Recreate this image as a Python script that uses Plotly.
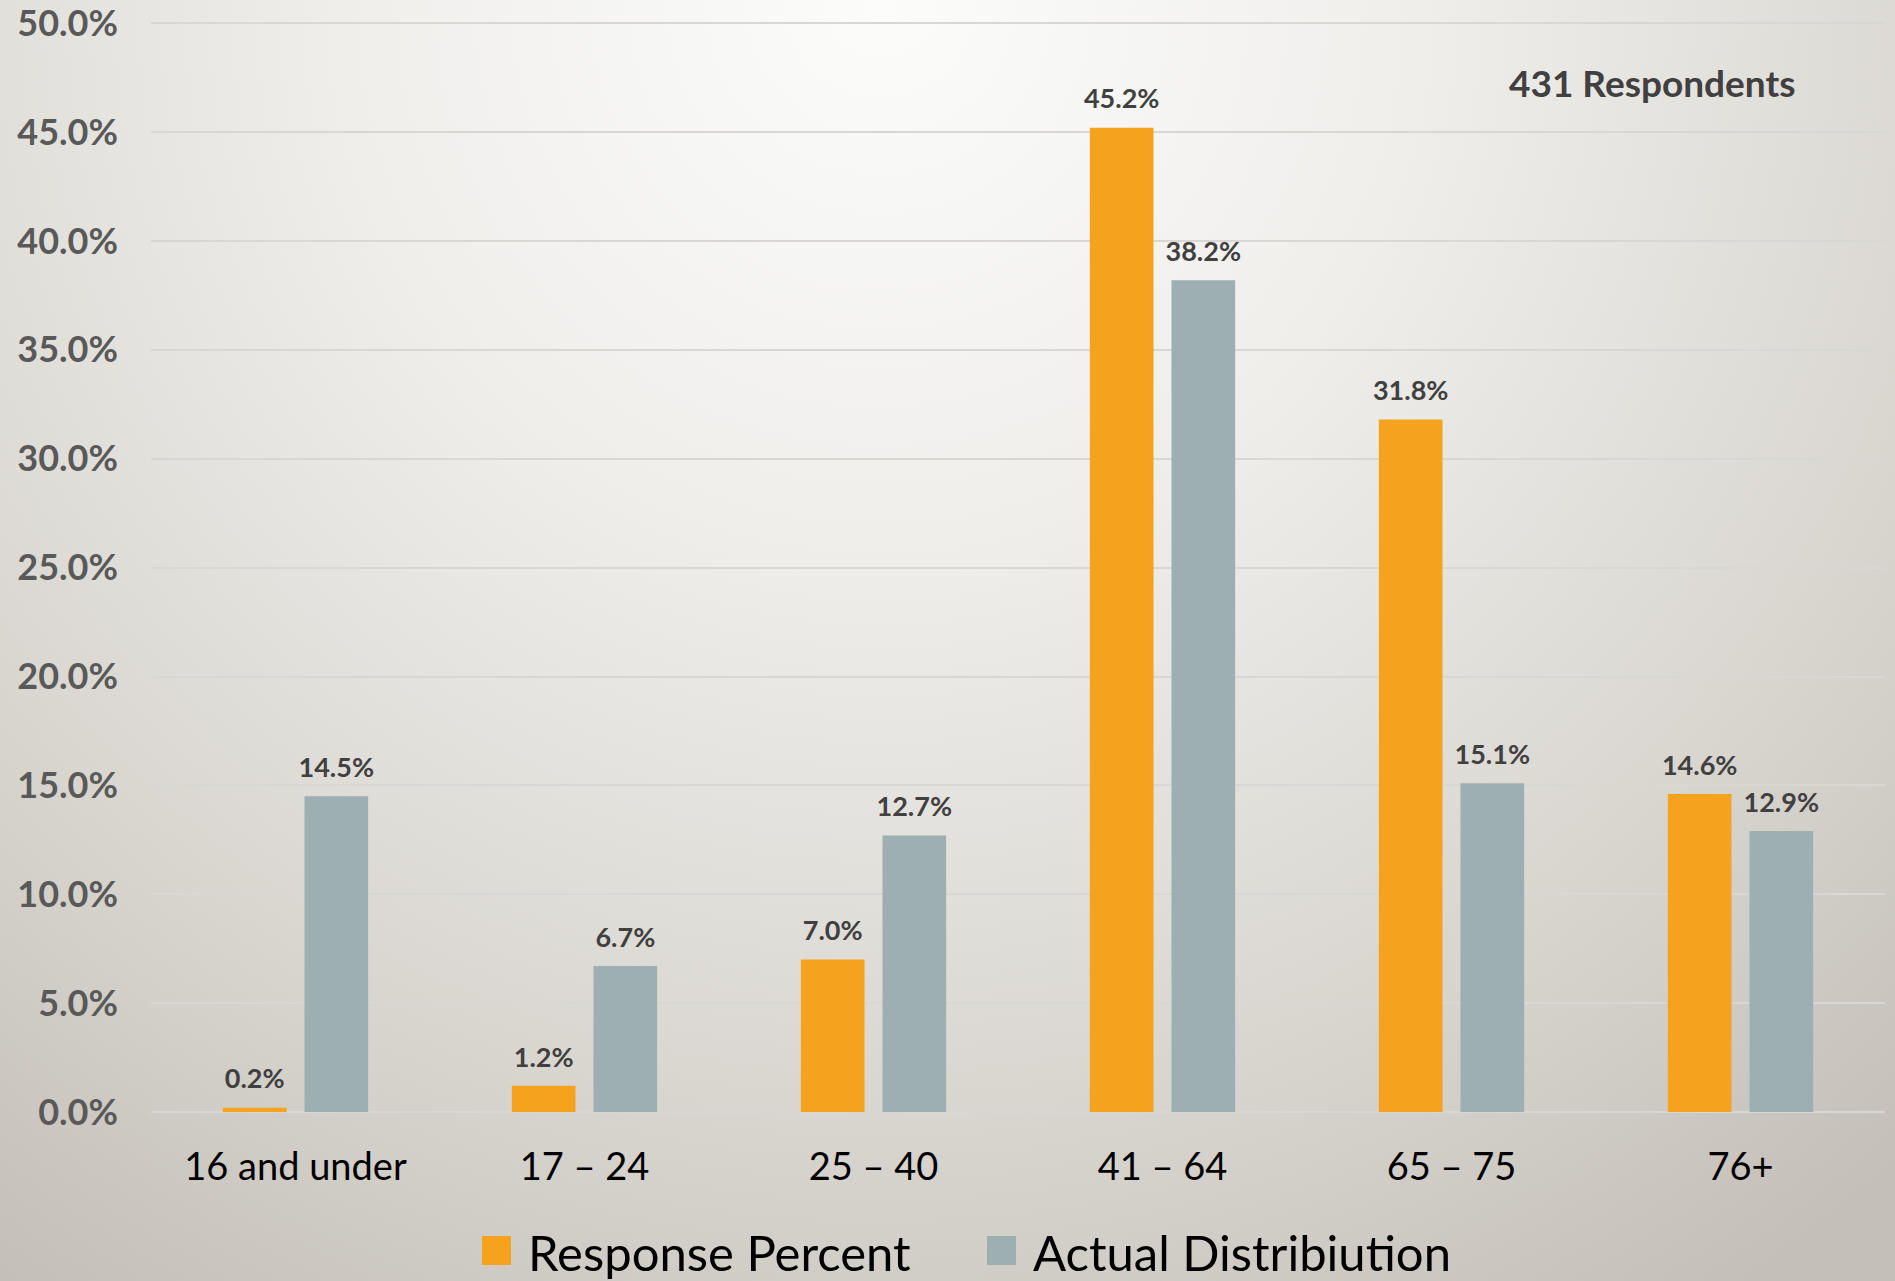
import base64
import plotly.graph_objects as go

categories = ["16 and under", "17 – 24", "25 – 40", "41 – 64", "65 – 75", "76+"]
response_percent = [0.2, 1.2, 7.0, 45.2, 31.8, 14.6]
actual_distribution = [14.5, 6.7, 12.7, 38.2, 15.1, 12.9]
series_names = ["Response Percent", "Actual Distribiution"]
series_colors = ["#F5A31E", "#9EAFB4"]
respondents_note = "431 Respondents"
y_ticks = [0, 5, 10, 15, 20, 25, 30, 35, 40, 45, 50]
y_tick_labels = [f"{v:.1f}%" for v in y_ticks]
y_range = [0, 50.15]

W, H = 1895, 1281
ML, MR, MT, MB = 151, 10, 20, 169
PW, PH = W - ML - MR, H - MT - MB

def px_x(px):
    return (px - ML) / PW

def px_y(py):
    return (H - MB - py) / PH

svg = f'''<svg xmlns="http://www.w3.org/2000/svg" width="{W}" height="{H}">
<defs><radialGradient id="g" gradientUnits="userSpaceOnUse" cx="880" cy="0" r="1550">
<stop offset="0" stop-color="#FCFCFB"/>
<stop offset="0.35" stop-color="#EFEEEB"/>
<stop offset="0.7" stop-color="#DAD7D1"/>
<stop offset="1" stop-color="#C4BFB8"/>
</radialGradient></defs>
<rect width="{W}" height="{H}" fill="url(#g)"/></svg>'''
bg_uri = "data:image/svg+xml;base64," + base64.b64encode(svg.encode()).decode()

label_tpl = "<span style='font-size:27px'>%{y:.1f}%</span><br>\u00a0"

fig = go.Figure()
for name, vals, col in zip(series_names, [response_percent, actual_distribution], series_colors):
    fig.add_trace(go.Bar(
        x=categories, y=vals, name=name, marker=dict(color=col, line=dict(width=0)),
        texttemplate=label_tpl, textposition="outside", constraintext="none",
        cliponaxis=False,
        textfont=dict(family="Lato", size=11, color="#404040", weight="bold"),
        showlegend=False, hoverinfo="x+y",
    ))

fig.update_layout(
    width=W, height=H,
    margin=dict(l=ML, r=MR, t=MT, b=MB, autoexpand=False),
    paper_bgcolor="#DDDAD5", plot_bgcolor="rgba(0,0,0,0)",
    barmode="group", bargap=0.435, bargroupgap=0.22,
    images=[dict(source=bg_uri, xref="paper", yref="paper",
                 x=-ML / PW, y=1 + MT / PH, sizex=W / PW, sizey=H / PH,
                 xanchor="left", yanchor="top", sizing="stretch", layer="below")],
    xaxis=dict(showgrid=False, showline=False, zeroline=False, ticks="",
               tickfont=dict(family="Lato", size=38, color="#000000"),
               ticklabelstandoff=29),
    yaxis=dict(range=y_range, tickvals=y_ticks, ticktext=y_tick_labels,
               showgrid=True, gridcolor="#D9D7D3", gridwidth=2,
               zeroline=True, zerolinecolor="#D9D7D3", zerolinewidth=2,
               showline=False, ticks="", ticklabeloverflow="allow",
               tickfont=dict(family="Lato", size=36, color="#595959", weight="bold"),
               ticklabelstandoff=32),
    font=dict(family="Lato"),
)

fig.add_annotation(text=respondents_note, xref="paper", yref="paper",
                   x=px_x(1797), y=px_y(82), xanchor="right", yanchor="middle",
                   showarrow=False,
                   font=dict(family="Lato", size=37, color="#404040", weight="bold"))

# legend (manual, to reproduce large swatches)
legend_items = [(482, 526), (987, 1031)]
for (sx, tx), name, col in zip(legend_items, series_names, series_colors):
    fig.add_shape(type="rect", xref="paper", yref="paper",
                  x0=px_x(sx), x1=px_x(sx + 29), y0=px_y(1236), y1=px_y(1265),
                  fillcolor=col, line=dict(width=0))
    fig.add_annotation(text=name, xref="paper", yref="paper",
                       x=px_x(tx), y=px_y(1252), xanchor="left", yanchor="middle",
                       showarrow=False,
                       font=dict(family="Lato", size=49, color="#000000"))

fig.write_html("out.html", config={"displayModeBar": False},
               post_script="document.body.style.margin='0';document.body.style.overflow='hidden';")
